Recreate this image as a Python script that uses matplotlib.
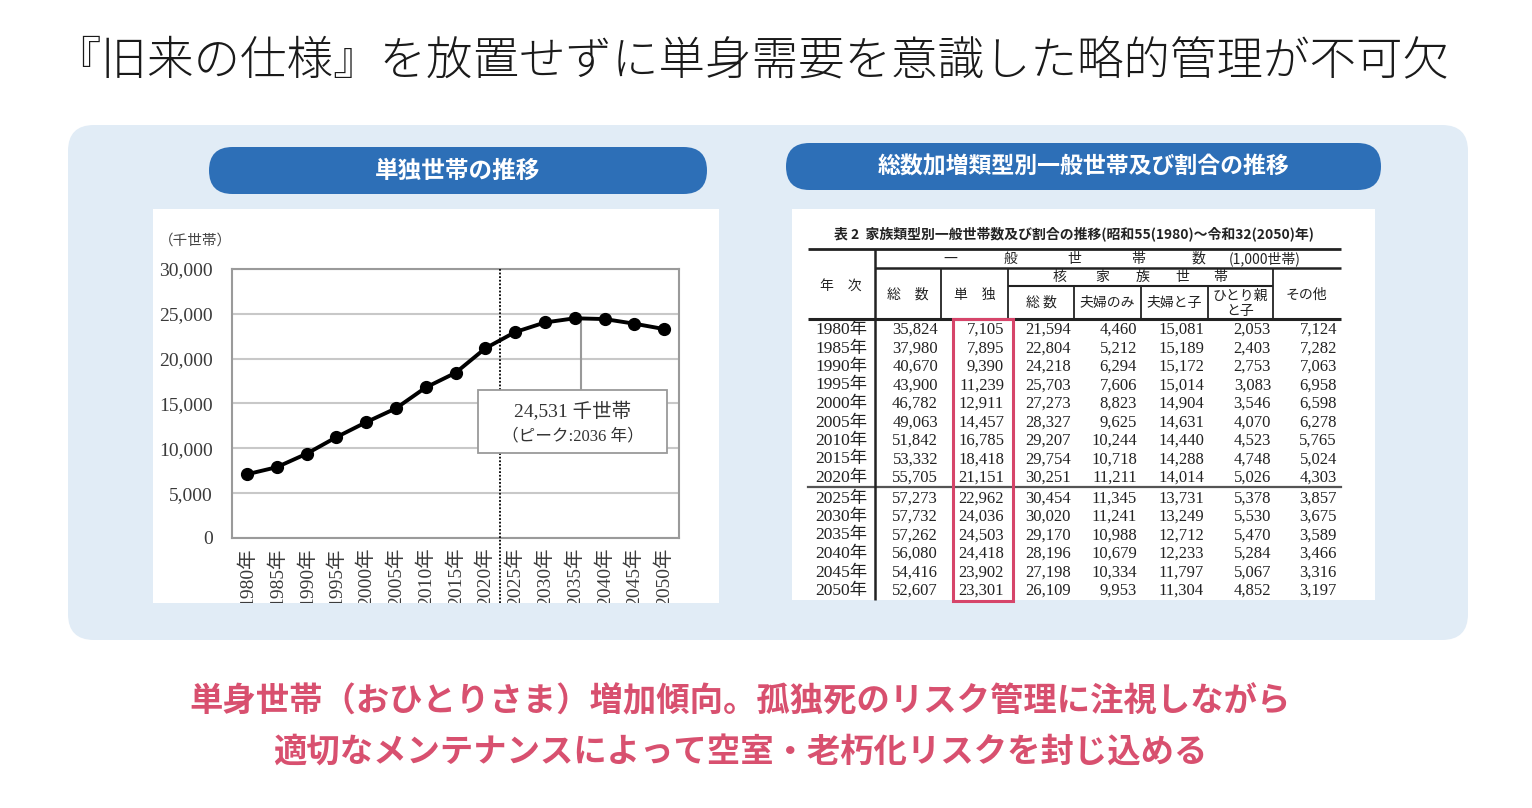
import matplotlib.pyplot as plt
from matplotlib.patches import FancyBboxPatch, Rectangle
from matplotlib.transforms import Bbox

plt.rcParams['font.family'] = ['Noto Sans CJK JP', 'DejaVu Sans']

W, H = 1532, 808

# data
years = [1980, 1985, 1990, 1995, 2000, 2005, 2010, 2015, 2020,
         2025, 2030, 2035, 2040, 2045, 2050]
year_labels = [f'{y}年' for y in years]
total = [35824, 37980, 40670, 43900, 46782, 49063, 51842, 53332, 55705,
         57273, 57732, 57262, 56080, 54416, 52607]
single = [7105, 7895, 9390, 11239, 12911, 14457, 16785, 18418, 21151,
          22962, 24036, 24503, 24418, 23902, 23301]
nuclear_total = [21594, 22804, 24218, 25703, 27273, 28327, 29207, 29754, 30251,
                 30454, 30020, 29170, 28196, 27198, 26109]
couple_only = [4460, 5212, 6294, 7606, 8823, 9625, 10244, 10718, 11211,
               11345, 11241, 10988, 10679, 10334, 9953]
couple_child = [15081, 15189, 15172, 15014, 14904, 14631, 14440, 14288, 14014,
                13731, 13249, 12712, 12233, 11797, 11304]
single_parent = [2053, 2403, 2753, 3083, 3546, 4070, 4523, 4748, 5026,
                 5378, 5530, 5470, 5284, 5067, 4852]
other = [7124, 7282, 7063, 6958, 6598, 6278, 5765, 5024, 4303,
         3857, 3675, 3589, 3466, 3316, 3197]
peak_year = 2036
peak_value = 24531
y_ticks = [0, 5000, 10000, 15000, 20000, 25000, 30000]

title = '『旧来の仕様』を放置せずに単身需要を意識した略的管理が不可欠'
left_head = '単独世帯の推移'
right_head = '総数加増類型別一般世帯及び割合の推移'
table_title = '表 2  家族類型別一般世帯数及び割合の推移(昭和55(1980)～令和32(2050)年)'
footer = ['単身世帯（おひとりさま）増加傾向。孤独死のリスク管理に注視しながら',
          '適切なメンテナンスによって空室・老朽化リスクを封じ込める']

blue = '#2D6FB7'
panel = '#E1ECF6'
pink = '#D8506F'
serif = ['Liberation Serif', 'Noto Sans CJK JP']

fig = plt.figure(figsize=(W / 100, H / 100), dpi=100)
bg = fig.add_axes([0, 0, 1, 1], zorder=0)
bg.set_xlim(0, W)
bg.set_ylim(H, 0)
bg.axis('off')

# title
bg.text(752, 62, title, ha='center', va='center', fontsize=33.5,
        fontweight='light', color='#1a1a1a')

# panel and headers
bg.add_patch(FancyBboxPatch((68, 125), 1400, 515,
                            boxstyle='round,pad=0,rounding_size=26',
                            fc=panel, ec='none'))
bg.add_patch(FancyBboxPatch((209, 147), 498, 47,
                            boxstyle='round,pad=0,rounding_size=23.5',
                            fc=blue, ec='none'))
bg.add_patch(FancyBboxPatch((786, 143), 595, 47,
                            boxstyle='round,pad=0,rounding_size=23.5',
                            fc=blue, ec='none'))
bg.text(458, 171, left_head, ha='center', va='center', color='white',
        fontsize=17, fontweight='bold')
bg.text(1084, 167, right_head, ha='center', va='center', color='white',
        fontsize=16.5, fontweight='bold')
bg.add_patch(Rectangle((153, 209), 566, 394, fc='white', ec='none'))
bg.add_patch(Rectangle((792, 209), 583, 391, fc='white', ec='none'))

# footer
for i, line in enumerate(footer):
    bg.text(740, 702 + 51 * i, line, ha='center', va='center', color=pink,
            fontsize=24, fontweight='bold')

# ---- line chart ----
bg.text(195, 241, '（千世帯）', ha='center', va='center', fontsize=10.5,
        color='#444444')
ax = fig.add_axes([232 / W, 1 - 538 / H, (679 - 232) / W, (538 - 269) / H],
                  zorder=2)
x = list(range(len(years)))
ax.plot(x, single, color='black', lw=2.8, marker='o', ms=8.5, zorder=4)
ax.set_xlim(-0.5, len(years) - 0.5)
ax.set_ylim(0, 30000)
ax.set_yticks(y_ticks)
ax.set_yticklabels([f'{v:,}' for v in y_ticks], family=serif, fontsize=14,
                   color='#3a3a3a')
ax.set_xticks(x)
ax.set_xticklabels(year_labels, rotation=90, family=serif, fontsize=14,
                   color='#3a3a3a', va='top')
ax.tick_params(length=0)
ax.tick_params(axis='y', pad=14)
ax.tick_params(axis='x', pad=7)
ax.grid(axis='y', color='#c8c8c8', lw=1.5)
ax.set_axisbelow(True)
for s in ax.spines.values():
    s.set_color('#9a9a9a')
    s.set_linewidth(1.5)

clip = Bbox.from_extents(153, H - 603, 719, H - 209)
for t in ax.get_xticklabels():
    t.set_clip_box(clip)
    t.set_clip_on(True)

# boundary between actual and projection
ax.plot([8.5, 8.5], [-0.242, 1], transform=ax.get_xaxis_transform(),
        color='black', ls=(0, (1, 1)), lw=1.3, clip_on=False, zorder=3)

# peak callout
peak_x = (peak_year - years[0]) / 5
box_lo, box_hi = 9480, 16500
ax.plot([peak_x, peak_x], [peak_value, box_hi], color='#999999', lw=1.5,
        zorder=3)
ax.add_patch(Rectangle((7.75, box_lo), 6.35, box_hi - box_lo, fc='white',
                       ec='#9a9a9a', lw=1.3, zorder=5))
ax.text(10.93, 14150, f'{peak_value:,} 千世帯', ha='center', va='center',
        family=serif, fontsize=14, color='#333333', zorder=6)
ax.text(10.93, 11380, f'（ピーク:{peak_year} 年）', ha='center', va='center',
        family=serif, fontsize=12, color='#333333', zorder=6)

# ---- table ----
bg.text(1074, 234, table_title, ha='center', va='center', fontsize=10,
        fontweight='bold', color='#222222')

L, R = 808, 1341
hl = dict(color='#222222', solid_capstyle='butt')
bg.plot([L, R], [249, 249], lw=2, **hl)
bg.plot([875, R], [268, 268], lw=1.8, **hl)
bg.plot([1008, 1273], [286, 286], lw=1.5, **hl)
bg.plot([L, R], [319, 319], lw=2.2, **hl)
bg.plot([L, R], [487, 487], lw=1.6, color='#555555')
bg.plot([875, 875], [249, 600], lw=1.8, **hl)
for xv in [941, 1008, 1273]:
    bg.plot([xv, xv], [268, 319], lw=1.3, **hl)
for xv in [1074, 1141, 1207.5]:
    bg.plot([xv, xv], [286, 319], lw=1.3, **hl)

hk = dict(ha='center', va='center', fontsize=10, color='#222222')
for ch, xv in zip('一般世帯数', [950, 1010, 1074, 1138, 1198]):
    bg.text(xv, 259, ch, **hk)
bg.text(1265, 259, '(1,000世帯)', **hk)
for ch, xv in zip('核家族世帯', [1059, 1102, 1143, 1182, 1220]):
    bg.text(xv, 277, ch, **hk)
bg.text(841, 286, '年　次', **hk)
bg.text(908, 295, '総　数', **hk)
bg.text(975, 295, '単　独', **hk)
bg.text(1041, 303, '総 数', **hk)
bg.text(1107, 303, '夫婦のみ', **hk)
bg.text(1174, 303, '夫婦と子', **hk)
bg.text(1240, 296, 'ひとり親', **hk)
bg.text(1240, 311, 'と子', **hk)
bg.text(1306, 295, 'その他', **hk)

columns = [total, single, nuclear_total, couple_only, couple_child,
           single_parent, other]
col_right = [938, 1004, 1071, 1137, 1204, 1271, 1337]
for i, lab in enumerate(year_labels):
    yy = 330 + 18.5 * i + (2 if i >= 9 else 0)
    bg.text(841, yy, lab, ha='center', va='center', family=serif,
            fontsize=12.5, color='#222222')
    for col, xr in zip(columns, col_right):
        bg.text(xr, yy, f'{col[i]:,}', ha='right', va='center',
                family=serif, fontsize=12, color='#222222')

bg.add_patch(Rectangle((953, 319), 60, 282, fill=False, ec='#D6456A',
                       lw=2.2, zorder=5))

fig.savefig('out.png', dpi=100)
